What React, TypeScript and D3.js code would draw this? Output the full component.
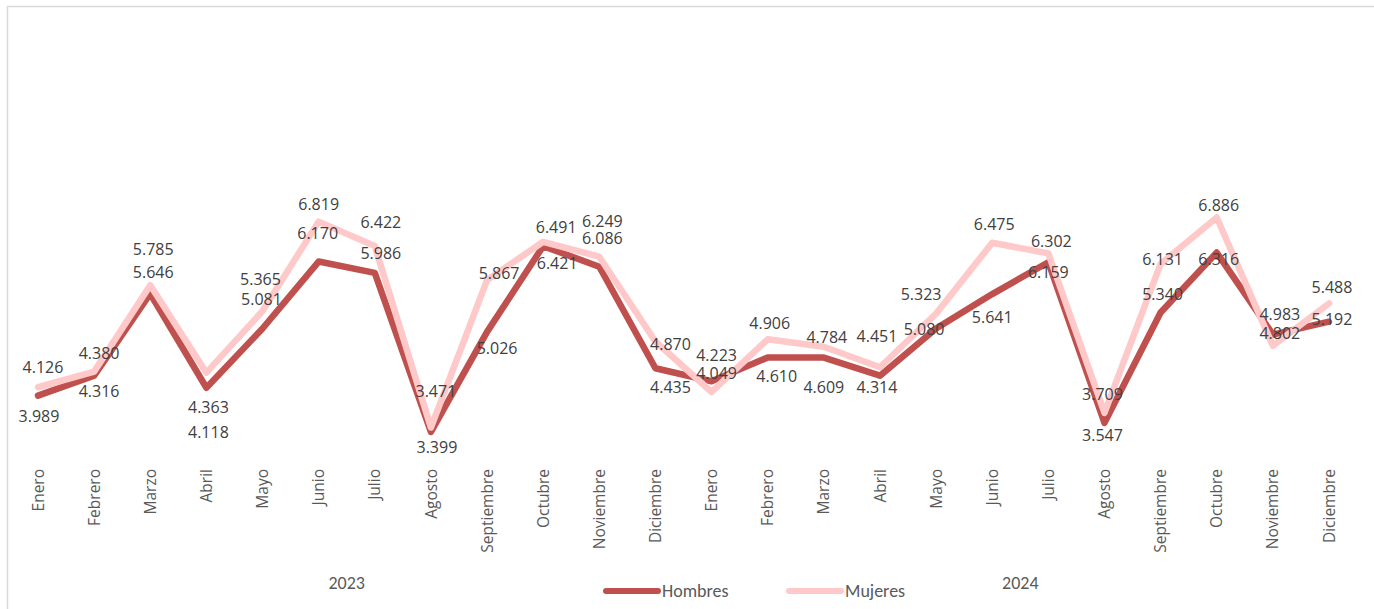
import React from "react";
import * as d3 from "d3";

const MONTHS = [
  "Enero", "Febrero", "Marzo", "Abril", "Mayo", "Junio",
  "Julio", "Agosto", "Septiembre", "Octubre", "Noviembre", "Diciembre",
];
const YEARS = ["2023", "2024"];

const HOMBRES = [
  3.989, 4.316, 5.646, 4.118, 5.081, 6.17, 5.986, 3.399, 5.026, 6.421, 6.086, 4.435,
  4.223, 4.61, 4.609, 4.314, 5.08, 5.641, 6.159, 3.547, 5.34, 6.316, 4.983, 5.192,
];
const MUJERES = [
  4.126, 4.38, 5.785, 4.363, 5.365, 6.819, 6.422, 3.471, 5.867, 6.491, 6.249, 4.87,
  4.049, 4.906, 4.784, 4.451, 5.323, 6.475, 6.302, 3.709, 6.131, 6.886, 4.802, 5.488,
];

// posición de las etiquetas de datos (desplazamiento en px respecto al punto)
const H_DX = [1, 5, 3, 2, -1, -1, 6, 6, 10, 14, 3, 15, 5, 9, 0, -3, -12, 0, 0, -2, 2, 2, 7, 3];
const H_DY = [21, 16, -22, 44, -29, -28, -20, 15, 16, 17, -28, 19, -26, 19, 30, 12, 1, 23, 10, 12, -18, 7, -20, -2];
const M_DX = [5, 5, 3, 2, -2, 0, 6, 5, 12, 13, 3, 15, 5, 2, 3, -3, -15, 2, 3, -2, 2, 2, 7, 3];
const M_DY = [-20, -18, -36, 35, -32, -17, -24, -36, -7, -15, -35, 3, -19, -16, -10, -31, -19, -19, -12, -19, -5, -12, -12, -16];

const W = 1374;
const H = 609;
const RED = "#c0504d";
const PINK = "#ffc9c9";
const LABEL_FONT = "'Open Sans', 'DejaVu Sans', sans-serif";
const CAL_FONT = "Carlito, Calibri, Lato, sans-serif";

export default function App() {
  const categories = YEARS.flatMap((y) => MONTHS.map((m) => `${m}|${y}`));
  const x = d3.scalePoint<string>().domain(categories).range([38, 1329]);
  const y = d3.scaleLinear().domain([3, 8]).range([456.5, 149]);
  const fmt = d3.format(".3f");

  const line = d3
    .line<number>()
    .x((_, i) => x(categories[i]) as number)
    .y((d) => y(d));

  const series = [
    { name: "Hombres", data: HOMBRES, color: RED, dx: H_DX, dy: H_DY },
    { name: "Mujeres", data: MUJERES, color: PINK, dx: M_DX, dy: M_DY },
  ];

  return (
    <div style={{ position: "absolute", left: 0, top: 0 }}>
      <svg width={W} height={H} viewBox={`0 0 ${W} ${H}`} style={{ display: "block", background: "#fff" }}>
        <rect x={7.5} y={6.5} width={W} height={H} fill="#fff" stroke="#d9d9d9" strokeWidth={1.5} />

        {/* líneas */}
        {series.map((s) => (
          <path
            key={s.name}
            d={line(s.data) || ""}
            fill="none"
            stroke={s.color}
            strokeWidth={6.5}
            strokeLinejoin="round"
            strokeLinecap="round"
          />
        ))}

        {/* etiquetas de datos */}
        {series.map((s) =>
          s.data.map((v, i) => (
            <text
              key={`${s.name}-${i}`}
              x={(x(categories[i]) as number) + s.dx[i]}
              y={y(v) + s.dy[i]}
              dy="0.36em"
              textAnchor="middle"
              fontFamily={LABEL_FONT}
              fontSize={16}
              fill="#404040"
            >
              {fmt(v)}
            </text>
          ))
        )}

        {/* eje X: meses */}
        {categories.map((c) => {
          const cx = x(c) as number;
          return (
            <text
              key={c}
              transform={`translate(${cx},469) rotate(-90)`}
              dy="0.36em"
              textAnchor="end"
              fontFamily={LABEL_FONT}
              fontSize={15.5}
              fill="#595959"
            >
              {c.split("|")[0]}
            </text>
          );
        })}

        {/* eje X: años */}
        {YEARS.map((yr) => {
          const cats = categories.filter((c) => c.endsWith(yr));
          const cx = ((x(cats[0]) as number) + (x(cats[cats.length - 1]) as number)) / 2;
          return (
            <text
              key={yr}
              x={cx}
              y={589}
              textAnchor="middle"
              fontFamily={CAL_FONT}
              fontSize={18}
              fill="#595959"
            >
              {yr}
            </text>
          );
        })}

        {/* leyenda */}
        {series.map((s, i) => (
          <g key={s.name} transform={`translate(${606 + i * 183},591)`}>
            <line x1={0} x2={52} y1={0} y2={0} stroke={s.color} strokeWidth={6} strokeLinecap="round" />
            <text x={56} y={0} dy="0.36em" fontFamily={CAL_FONT} fontSize={18} fill="#595959">
              {s.name}
            </text>
          </g>
        ))}
      </svg>
    </div>
  );
}
